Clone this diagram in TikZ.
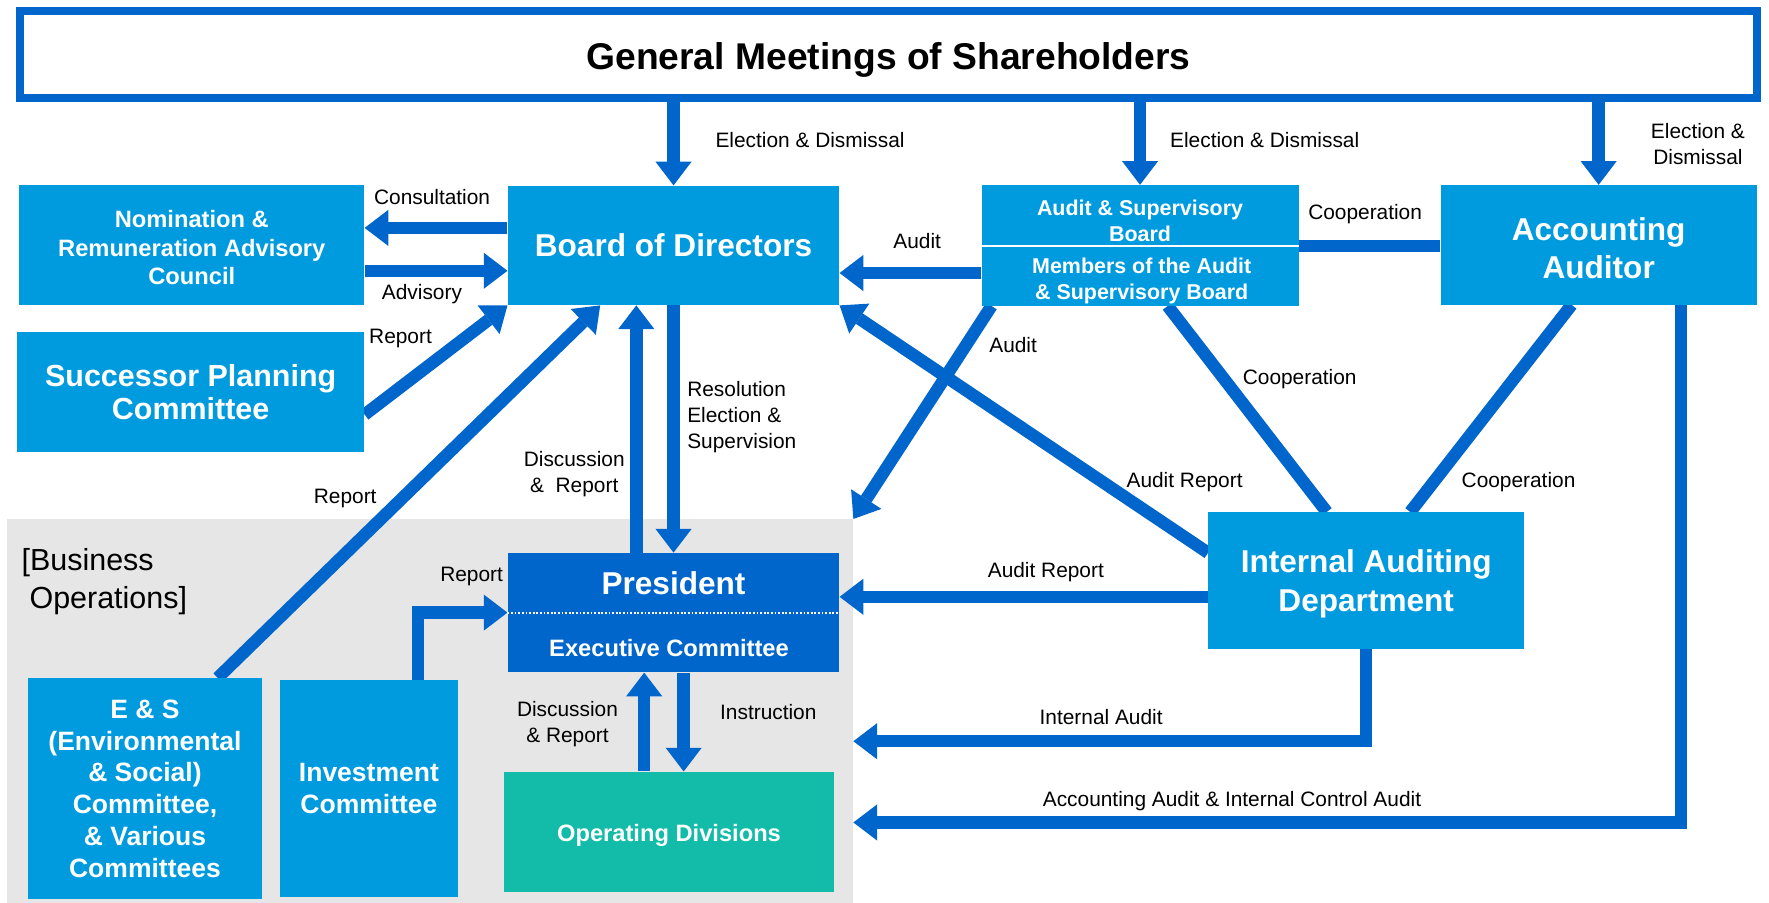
\documentclass[tikz,border=0pt]{standalone}
\usepackage{fontspec}
\setmainfont{Liberation Sans}
\usetikzlibrary{arrows.meta,positioning,backgrounds}
\definecolor{linkblue}{RGB}{0,102,204}
\definecolor{boxblue}{RGB}{0,155,222}
\definecolor{presblue}{RGB}{0,102,204}
\definecolor{opteal}{RGB}{18,188,168}
\definecolor{bizgray}{RGB}{230,230,230}
\newcommand{\fsz}[2]{\fontsize{#1}{#2}\selectfont}
\pgfdeclarelayer{bottom}
\pgfsetlayers{bottom,background,main}
\tikzset{
  box/.style={fill=boxblue, text=white, align=center, inner sep=0pt},
  boxtext/.style={text=white, align=center, inner sep=0pt},
  flow/.style={draw=linkblue, line width=11pt, -{Triangle[length=21pt,width=32pt,line width=0pt]}},
  coop/.style={draw=linkblue, line width=11pt},
  lbl/.style={align=center, inner sep=0pt, font=\fsz{18.5}{23}},
}

\begin{document}
\begin{tikzpicture}[x=1pt,y=-1pt]
            \useasboundingbox (0,0) rectangle (1568,800);

            % Business operations area
            \begin{pgfonlayer}{bottom}
              \node[fill=bizgray, inner sep=0pt, minimum width=750pt, minimum height=340pt, anchor=north west] (biz) at (6,460) {};
            \end{pgfonlayer}
            \node[anchor=west, align=left, inner sep=0pt, font=\fsz{27}{34}] (biztxt) at (19,515.5) {[Business\\\hspace*{7pt}Operations]};

            % Boxes
            \node[draw=linkblue, line width=7pt, fill=white, inner sep=0pt, minimum width=1540pt, minimum height=77pt,
                  label={[inner sep=0pt, yshift=-5pt, font=\bfseries\fsz{33}{40}]center:General Meetings of Shareholders}] (gm) at (787.5,48) {};
            \node[box, minimum width=306pt, minimum height=106pt,
                  label={[boxtext, yshift=-2.5pt, font=\bfseries\fsz{21}{25.5}]center:{Nomination \&\\Remuneration Advisory\\Council}}] (nom) at (170,217) {};
            \node[box, minimum width=294pt, minimum height=106pt, font=\bfseries\fsz{28}{33}] (bod) at (597,217.5) {Board of Directors};
            \node[box, minimum width=308pt, minimum height=106pt, font=\bfseries\fsz{27}{30}] (succ) at (169,347.5) {Successor Planning\\Committee};
            \node[box, minimum width=281pt, minimum height=52.8pt] (asbtop) at (1010.5,190.4) {};
            \node[box, minimum width=281pt, minimum height=51.8pt] (asbbot) at (1010.5,245.1) {};
            \node[boxtext, font=\bfseries\fsz{19}{22.5}] (asbtoptxt) at (1010.5,195.7) {Audit \& Supervisory\\Board};
            \node[boxtext, font=\bfseries\fsz{19}{22.5}] (asbbottxt) at (1012,249.1) {Members of the Audit\\\& Supervisory Board};
            \node[box, minimum width=280pt, minimum height=106pt,
                  label={[boxtext, yshift=-3pt, font=\bfseries\fsz{28}{33}]center:{Accounting\\Auditor}}] (acc) at (1417,217) {};
            \node[box, minimum width=280pt, minimum height=121pt,
                  label={[boxtext, yshift=-3pt, font=\bfseries\fsz{28}{34}]center:{Internal Auditing\\Department}}] (iad) at (1211,514.5) {};
            \node[box, fill=presblue, minimum width=294pt, minimum height=106pt] (pres) at (597,543) {};
            \node[boxtext, font=\bfseries\fsz{28}{33}] (prestxt) at (597,517) {President};
            \node[boxtext, font=\bfseries\fsz{21}{25}] (exectxt) at (593,574) {Executive Committee};
            \draw[white, line width=1.6pt, dash pattern=on 1.6pt off 1.6pt] (pres.west) -- (pres.east);
            \node[box, minimum width=207pt, minimum height=196pt, font=\bfseries\fsz{23.5}{28.2}] (es) at (128.5,699) {E \& S\\(Environmental\\\& Social)\\Committee,\\\& Various\\Committees};
            \node[box, minimum width=158pt, minimum height=192pt, font=\bfseries\fsz{23.5}{28.2}] (inv) at (327,699) {Investment\\Committee};
            \node[box, fill=opteal, minimum width=292pt, minimum height=107pt,
                  label={[boxtext, yshift=-3pt, font=\bfseries\fsz{21}{25}]center:Operating Divisions}] (od) at (593,737.5) {};

            % Arrows
            \begin{scope}[on background layer]
              \draw[flow] (gm.south -| bod.north) -- (bod.north);
              \draw[flow] (gm.south -| asbtop.north) -- (asbtop.north);
              \draw[flow] (gm.south -| acc.north) -- (acc.north);
              \draw[flow] (bod.west |- 0,202) -- (nom.east |- 0,202);
              \draw[flow] (nom.east |- 0,240) -- (bod.west |- 0,240);
              \draw[flow] ([yshift=-20pt]succ.east) -- (bod.south west);
              \draw[flow] ([xshift=64.5pt]es.north) -- ([xshift=-65pt]bod.south);
              \draw[flow] ([xshift=-33pt]pres.north) -- ([xshift=-33pt]bod.south);
              \draw[flow] (bod.south) -- (pres.north);
              \draw[flow] (asbbot.west |- 0,242) -- (bod.east |- 0,242);
              \draw[coop] (asbtop.east |- 0,218) -- (acc.west |- 0,218);
              \draw[flow] ([xshift=9pt]asbbot.south west) -- (biz.north east);
              \draw[flow] ([yshift=24.5pt]iad.west) -- (bod.south east);
              \draw[flow] (iad.west |- 0,529) -- (pres.east |- 0,529);
              \draw[coop] ([xshift=24.5pt]asbbot.south) -- ([xshift=-35pt]iad.north);
              \draw[coop] ([xshift=-24pt]acc.south) -- ([xshift=39pt]iad.north);
              \draw[flow] (iad.south) |- (biz.east |- 0,657);
              \draw[flow] ([xshift=73pt]acc.south) |- (biz.east |- 0,729);
              \draw[flow] ([xshift=43.5pt]inv.north) |- (pres.west);
              \draw[flow] ([xshift=9pt]pres.south) -- ([xshift=13pt]od.north);
              \draw[flow] ([xshift=-22pt]od.north) -- ([xshift=-26pt]pres.south);
            \end{scope}

            % Labels
            \node[lbl, anchor=west] (lelect1) at (634,124) {Election \& Dismissal};
            \node[lbl, anchor=west] (lelect2) at (1037,124) {Election \& Dismissal};
            \node[lbl] (lelect3) at (1505,128) {Election \&\\Dismissal};
            \node[lbl] (lconsult) at (383,175) {Consultation};
            \node[lbl] (ladvis) at (374,261) {Advisory};
            \node[lbl] (lrepsucc) at (355,300) {Report};
            \node[lbl] (lrepes) at (306,442) {Report};
            \node[lbl] (ldiscbod) at (509,420) {Discussion\\\&\ \ Report};
            \node[lbl, anchor=west, align=left] (lresol) at (609,370) {Resolution\\Election \&\\Supervision};
            \node[lbl] (laudit1) at (813,214) {Audit};
            \node[lbl] (lcoop1) at (1210,190) {Cooperation};
            \node[lbl] (laudit2) at (898,306) {Audit};
            \node[lbl] (lcoop2) at (1152,336) {Cooperation};
            \node[lbl] (lauditrep1) at (1050,427) {Audit Report};
            \node[lbl] (lcoop3) at (1346,427) {Cooperation};
            \node[lbl] (lauditrep2) at (927,507) {Audit Report};
            \node[lbl] (linternal) at (976,636) {Internal Audit};
            \node[lbl] (lacc) at (1092,710) {Accounting Audit \& Internal Control Audit};
            \node[lbl] (lrepinv) at (418,511) {Report};
            \node[lbl] (ldiscop) at (503,642) {Discussion\\\& Report};
            \node[lbl] (linstr) at (681,631) {Instruction};
\end{tikzpicture}
\end{document}
